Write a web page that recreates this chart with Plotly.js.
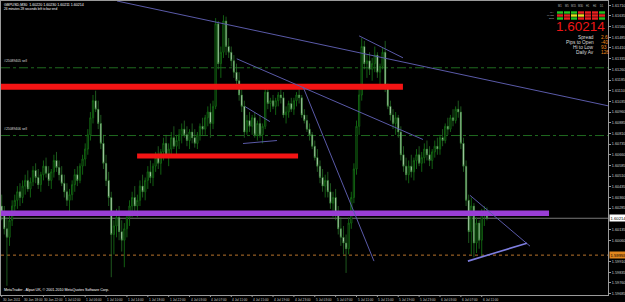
<!DOCTYPE html>
<html><head><meta charset="utf-8">
<script src="https://cdn.plot.ly/plotly-3.0.1.min.js"></script>
<style>html,body{margin:0;padding:0;background:#000;overflow:hidden}#c{width:625px;height:302px}</style>
</head><body><div id="c"></div>
<script>
// Prices are stored as pips above 1.6000 (GBPUSD, M30 bars)
const BASE = 1.6000, PIP = 0.0001;
const openPips = [30,24,14,8,20,30,34,40,36,44, 48,42,47,55,50,45,52,58,53,48, 54,62,57,52,46,40,34,38,45,52, 48,58,63,70,80,92,104,98,88,74,
 60,48,36,10,16,22,12,6,14,22, 30,36,30,34,44,40,48,54,50,58, 64,60,68,74,66,70,78,72,76,80, 84,80,76,82,78,74,80,86,84,92,
 96,88,100,158,130,138,160,142,138,132, 124,118,108,100,82,90,86,92,80,88, 80,86,110,102,104,100,104,108,106,94, 96,102,98,104,108,106,94,90,84,80,
 72,64,58,50,44,48,40,32,36,24, 14,8,4,0,18,36,56,86,108,142, 130,132,126,130,136,124,128,138,114,100, 94,88,92,82,66,58,52,58,54,62,
 66,60,64,70,66,62,68,72,70,78, 76,86,84,92,90,98,96,74,58,34, 12,30,4,18,6,24,26];
const highPips = [38,30,22,24,34,38,44,46,48,52, 55,50,58,60,56,54,62,64,58,56, 66,68,62,58,52,46,42,48,56,58, 60,66,74,84,96,108,111,104,94,80,
 66,54,40,20,28,30,20,18,26,34, 40,44,38,48,52,50,58,62,60,68, 72,70,78,80,74,82,86,80,84,88, 90,86,84,88,84,82,88,92,94,100,
 102,104,162,160,142,164,163,148,142,136, 130,124,112,104,94,96,94,96,90,94, 88,114,112,106,108,106,110,112,110,100, 104,106,106,110,114,108,98,94,88,82,
 76,70,62,56,52,54,46,40,42,30, 22,16,10,22,40,60,90,112,148,146, 136,138,134,142,138,130,141,146,116,104, 98,96,94,86,72,64,62,66,64,70,
 72,68,74,76,72,70,76,78,80,84, 88,92,94,98,100,104,100,78,62,38, 36,32,22,20,28,30,29];
const lowPips = [20,10,-26,2,16,24,28,30,32,38, 40,36,44,46,42,40,48,50,44,42, 50,54,48,44,36,30,26,34,40,44, 46,52,58,66,76,88,96,84,70,56,
 44,30,-20,-4,8,6,-2,-13,8,16, 22,26,22,30,36,34,42,46,44,54, 56,52,62,64,58,66,70,64,70,74, 78,72,70,74,71,70,76,80,80,86,
 78,84,98,126,120,134,136,134,128,120, 112,104,96,78,80,82,80,78,76,78, 74,84,98,96,98,94,100,102,92,88, 92,96,94,100,102,92,88,82,76,70,
 62,54,46,40,36,36,28,22,20,10, 2,-4,-17,-4,14,32,52,80,104,126, 120,122,118,124,120,112,126,110,98,90, 84,80,78,62,54,48,46,50,48,56,
 58,54,60,62,58,56,64,66,66,72, 74,80,82,86,88,92,70,54,30,4, -4,-6,-3,0,-5,16,20];
const closePips = [24,14,8,20,30,34,40,36,44,48, 42,47,55,50,45,52,58,53,48,54, 62,57,52,46,40,34,38,45,52,48, 58,63,70,80,92,104,98,88,74,60,
 48,36,10,16,22,12,6,14,22,30, 36,30,34,44,40,48,54,50,58,64, 60,68,74,66,70,78,72,76,80,84, 80,76,82,78,74,80,86,84,92,96,
 88,100,158,130,138,160,142,138,132,124, 118,108,100,82,90,86,92,80,88,80, 86,110,102,104,100,104,108,106,94,96, 102,98,104,108,106,94,90,84,80,72,
 64,58,50,44,48,40,32,36,24,14, 8,4,0,18,36,56,86,108,142,130, 132,126,130,136,124,128,138,114,100,94, 88,92,82,66,58,52,58,54,62,66,
 60,64,70,66,62,68,72,70,78,76, 86,84,92,90,98,96,74,58,34,12, 30,4,18,6,24,26,21.4];

const timeLabels = ["30 Jun 2011","30 Jun 18:00","30 Jun 22:00","1 Jul 02:00","1 Jul 06:00","1 Jul 10:00","1 Jul 14:00","1 Jul 18:00","1 Jul 22:00",
 "4 Jul 03:00","4 Jul 07:00","4 Jul 11:00","4 Jul 15:00","4 Jul 19:00","4 Jul 23:00","5 Jul 03:00","5 Jul 07:00","5 Jul 11:00","5 Jul 15:00",
 "5 Jul 19:00","5 Jul 23:00","6 Jul 03:00","6 Jul 07:00","6 Jul 11:00"];
const barsPerLabel = 8;

const symbolInfo = "GBPUSD,M30  1.60220 1.60230 1.60211 1.60214";
const timerInfo = "26 minutes 28 seconds left to bar end";
const bidPrice = 1.60214;
const lowLinePrice = 1.59955;
// drawn objects: [bar0, price, bar1]
const redLevels = [[-0.3, 1.61138, 153.8], [51.9, 1.60652, 113.6]];
const purpleLevel = [-0.3, 1.60250, 209.8];
const orderLevels = [1.61271, 1.60795];
const orderLabels = ["#25089405 sell", "#25089406 sell"];
// trend lines: [bar0, price0, bar1, price1]
const trendLines = [
 [44.2,1.61740,232.4,1.61004],[90.1,1.61334,161.5,1.60767],[137.0,1.61495,153.8,1.61341],
 [115.5,1.61138,142.7,1.59913],[179.5,1.60375,202.5,1.60018],[92.5,1.60739,105.5,1.60760],[93.3,1.60998,102.8,1.60893]];
const trendLineBright = [178.7,1.59913,201.3,1.60039];

const panelCols = ["M1","M5","M15","M30","H1","H4","D1"];
const panelRows = ["MA","MACD","STO"];
const panelSignals = [["g","g","g","r","r","r","g"],["r","r","y","y","r","r","r"],["g","r","g","r","r","r","g"]];
const statLabels = ["Spread","Pips to Open","Hi to Low","Daily Av"];
const statValues = ["2.6","-40","93","126"];

// ---- build ----
const toPrice = a => a.map(v => +(BASE + v*PIP).toFixed(5));
const idx = openPips.map((_, i) => i);
const W = 625, H = 302, L = 1, R = 17, T = 1, B = 7;
const pw = W - L - R, ph = H - T - B;
const px = x => (x - L) / pw, py = y => (H - B - y) / ph;
const yRange = [1.59675, 1.61740];

const trace = {
  type: 'candlestick', x: idx,
  open: toPrice(openPips), high: toPrice(highPips), low: toPrice(lowPips), close: toPrice(closePips),
  increasing: {line: {color: '#136a13', width: 0.9}, fillcolor: '#000000'},
  decreasing: {line: {color: '#2b7d2b', width: 0.7}, fillcolor: '#f4fff4'},
  whiskerwidth: 0, hoverinfo: 'skip', showlegend: false
};

// price-scale ticks (hidden where the bid / line labels sit, as on the terminal)
const yTicks = [];
for (let v = 1.59685; v < yRange[1]; v += 0.00075) {
  if (Math.abs(v - bidPrice) > 0.00034 && Math.abs(v - lowLinePrice) > 0.00034) yTicks.push(+v.toFixed(5));
}

const shapes = [];
const annotations = [];
const FONT = 'Liberation Sans, Arial, sans-serif';

orderLevels.forEach((p, k) => {
  shapes.push({type:'line', xref:'paper', yref:'y', x0:0, x1:1, y0:p, y1:p, line:{color:'#1f6a1f', width:1, dash:'dashdot'}, layer:'below'});
  annotations.push({xref:'paper', yref:'y', x:px(2), y:p, yshift:3, xanchor:'left', yanchor:'bottom', text:orderLabels[k], showarrow:false, font:{size:3.4, color:'#dddddd', family:FONT}});
});
shapes.push({type:'line', xref:'paper', yref:'y', x0:0, x1:1, y0:bidPrice, y1:bidPrice, line:{color:'#7a7a7a', width:1}, layer:'below'});
shapes.push({type:'line', xref:'paper', yref:'y', x0:0, x1:1, y0:lowLinePrice, y1:lowLinePrice, line:{color:'#b8742c', width:1, dash:'dot'}, layer:'below'});
shapes.push({type:'line', xref:'x', yref:'y', x0:redLevels[0][0], x1:redLevels[0][2], y0:redLevels[0][1], y1:redLevels[0][1], line:{color:'#f41414', width:6}});
shapes.push({type:'line', xref:'x', yref:'y', x0:redLevels[1][0], x1:redLevels[1][2], y0:redLevels[1][1], y1:redLevels[1][1], line:{color:'#f41414', width:5}});
shapes.push({type:'line', xref:'x', yref:'y', x0:purpleLevel[0], x1:purpleLevel[2], y0:purpleLevel[1], y1:purpleLevel[1], line:{color:'#9a3ed6', width:5.5}});
trendLines.forEach(t => shapes.push({type:'line', xref:'x', yref:'y', x0:t[0], y0:t[1], x1:t[2], y1:t[3], line:{color:'#5a5aa8', width:1}}));
shapes.push({type:'line', xref:'x', yref:'y', x0:trendLineBright[0], y0:trendLineBright[1], x1:trendLineBright[2], y1:trendLineBright[3], line:{color:'#7e7ee0', width:1.6}});

annotations.push({xref:'paper', yref:'y', x:px(609), y:bidPrice, xanchor:'left', yanchor:'middle', text:bidPrice.toFixed(5), showarrow:false, bgcolor:'#ffffff', borderpad:0.5, font:{size:4.2, color:'#000', family:FONT}});
annotations.push({xref:'paper', yref:'y', x:px(609), y:lowLinePrice, xanchor:'left', yanchor:'middle', text:lowLinePrice.toFixed(5), showarrow:false, bgcolor:'#e0861e', borderpad:0.5, font:{size:4.2, color:'#000', family:FONT}});

// time labels along the bottom, left-aligned at their bar like the terminal
timeLabels.forEach((t, k) => {
  annotations.push({xref:'x', yref:'paper', x:k*barsPerLabel, y:py(296), xanchor:'left', yanchor:'top', xshift:-1, text:t, showarrow:false, font:{size:3.2, color:'#cccccc', family:FONT}});
  shapes.push({type:'line', xref:'x', yref:'paper', x0:k*barsPerLabel, x1:k*barsPerLabel, y0:py(295), y1:py(297), line:{color:'#9a9a9a', width:1}});
});

annotations.push({xref:'paper', yref:'paper', x:px(2), y:py(1.2), xanchor:'left', yanchor:'top', text:symbolInfo, showarrow:false, font:{size:3.6, color:'#ffffff', family:FONT}});
annotations.push({xref:'paper', yref:'paper', x:px(2), y:py(4.6), xanchor:'left', yanchor:'top', text:timerInfo, showarrow:false, font:{size:3.2, color:'#ffffff', family:FONT}});
annotations.push({xref:'paper', yref:'paper', x:px(2), y:py(294.3), xanchor:'left', yanchor:'bottom', text:"MetaTrader - Alpari UK, © 2001-2010 MetaQuotes Software Corp.", showarrow:false, font:{size:3.6, color:'#ffffff', family:FONT}});

const sigColor = {g:'#22c422', r:'#e82020', y:'#e8e020'};
panelCols.forEach((c, j) => {
  annotations.push({xref:'paper', yref:'paper', x:px(560 + j*7), y:py(10.5), xanchor:'center', yanchor:'bottom', text:c, showarrow:false, font:{size:2.6, color:'#bbbbbb', family:FONT}});
});
panelRows.forEach((r, i) => {
  annotations.push({xref:'paper', yref:'paper', x:px(556), y:py(12.5 + i*3), xanchor:'right', yanchor:'middle', text:r, showarrow:false, font:{size:2.4, color:'#bbbbbb', family:FONT}});
  panelSignals[i].forEach((s, j) => {
    shapes.push({type:'rect', xref:'paper', yref:'paper', x0:px(557 + j*7), x1:px(563 + j*7), y0:py(11.3 + i*3), y1:py(13.7 + i*3), line:{width:0}, fillcolor:sigColor[s]});
  });
});
annotations.push({xref:'paper', yref:'paper', x:px(606.5), y:py(27), xanchor:'right', yanchor:'middle', text:bidPrice.toFixed(5), showarrow:false, font:{size:13.5, color:'#ee1616', family:FONT}});
statLabels.forEach((s, i) => {
  annotations.push({xref:'paper', yref:'paper', x:px(596), y:py(37.5 + i*5), xanchor:'right', yanchor:'middle', text:s, showarrow:false, font:{size:4.8, color:'#dcdcdc', family:FONT}});
  annotations.push({xref:'paper', yref:'paper', x:px(598.5), y:py(37.5 + i*5), xanchor:'left', yanchor:'middle', text:statValues[i], showarrow:false, font:{size:4.8, color:'#f08a1c', family:FONT}});
});

const layout = {
  width: W, height: H, margin: {l: L, r: R, t: T, b: B},
  paper_bgcolor: '#000', plot_bgcolor: '#000', showlegend: false,
  xaxis: {range: [-0.27, 232.4], showticklabels: false, ticks: '', showline: true, linecolor: '#9a9a9a', linewidth: 1, mirror: true,
    showgrid: false, zeroline: false, rangeslider: {visible: false}, fixedrange: true},
  yaxis: {side: 'right', range: yRange, tickmode: 'array', tickvals: yTicks, tickformat: '.5f',
    ticks: 'outside', ticklen: 2, tickcolor: '#9a9a9a', tickfont: {size: 3.8, color: '#cccccc', family: FONT},
    showline: true, linecolor: '#9a9a9a', linewidth: 1, mirror: true, showgrid: false, zeroline: false, fixedrange: true},
  shapes: shapes, annotations: annotations
};
Plotly.newPlot('c', [trace], layout, {displayModeBar: false, staticPlot: true});
</script></body></html>
